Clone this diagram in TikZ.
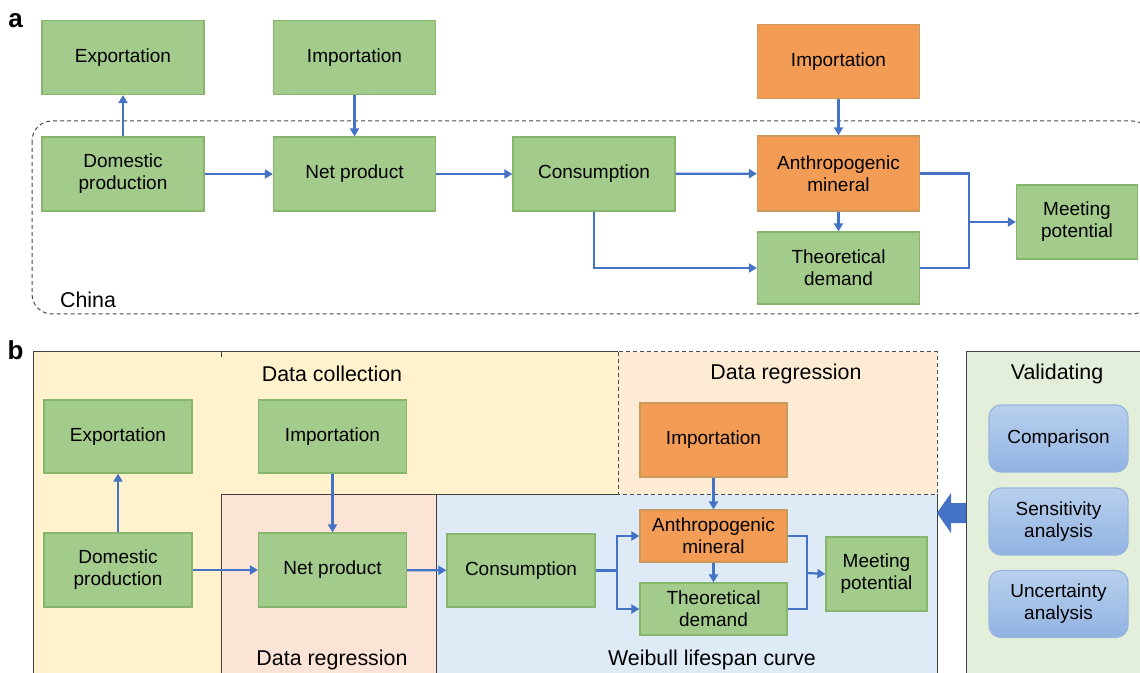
\documentclass[tikz,border=0pt]{standalone}
\usepackage{fontspec}
\setmainfont{Liberation Sans}
\usetikzlibrary{arrows.meta}
\definecolor{boxgreen}{HTML}{A3CB8B}
\definecolor{greenline}{HTML}{86B56C}
\definecolor{boxorange}{HTML}{F39C56}
\definecolor{orangeline}{HTML}{C99A5C}
\definecolor{flowblue}{HTML}{4472C4}
\definecolor{bgyellow}{HTML}{FFF2CC}
\definecolor{bgpink}{HTML}{FBE4D5}
\definecolor{bgblue}{HTML}{DEEAF6}
\definecolor{bgpeach}{HTML}{FDEBD3}
\definecolor{bggreen}{HTML}{E3EFDA}
\definecolor{vtop}{HTML}{B9D0EE}
\definecolor{vbot}{HTML}{91B3E2}
\definecolor{vline}{HTML}{9AB6DE}

\begin{document}
\begin{tikzpicture}[x=0.5pt, y=-0.5pt,
    box/.style={rectangle, draw=greenline, fill=boxgreen, line width=0.6pt,
        inner sep=0pt, minimum width=81pt, minimum height=37pt, align=center,
        font=\fontsize{9.5}{11}\selectfont},
    obox/.style={box, draw=orangeline, fill=boxorange},
    vbox/.style={rectangle, rounded corners=6pt, draw=vline, line width=0.6pt,
        top color=vtop, bottom color=vbot, inner sep=0pt, minimum width=69.5pt,
        minimum height=33.5pt, align=center, font=\fontsize{9.5}{11}\selectfont},
    flow/.style={draw=flowblue, line width=1.1pt, -{Triangle[length=4pt,width=4.5pt]}},
    link/.style={draw=flowblue, line width=1.1pt},
    frame/.style={draw=black!75, line width=0.5pt},
    region/.style={draw=black!70, line width=0.5pt, dash pattern=on 2pt off 1.5pt},
    title/.style={font=\fontsize{10.7}{12}\selectfont},
    panel/.style={font=\fontsize{13}{13}\selectfont\bfseries}
]
    \useasboundingbox (0,0) rectangle (1140,673);

    % panel a
    \node[panel] (pa) at (15.5,21) {a};
    \draw[region, rounded corners=10pt] (32,121) rectangle (1152,314);
    \node[title, anchor=west] (china) at (53,300) {China};

    \node[box] (exp) at (123,57.5) {Exportation};
    \node[box] (imp) at (354.5,57.5) {Importation};
    \node[box] (dom) at (123,174) {Domestic\\production};
    \node[box] (net) at (354.5,174) {Net product};
    \node[box] (cons) at (594,174) {Consumption};
    \node[obox] (impo) at (838.5,61.5) {Importation};
    \node[obox, minimum height=37.5pt] (anth) at (838.5,173.5) {Anthropogenic\\mineral};
    \node[box, minimum height=36pt] (theo) at (838.5,268) {Theoretical\\demand};
    \node[box, minimum width=60.5pt] (meet) at (1077,222) {Meeting\\potential};
    \coordinate (ja) at (969,222);

    \draw[flow] (dom) -- (exp);
    \draw[flow] (imp) -- (net);
    \draw[flow] (dom) -- (net);
    \draw[flow] (net) -- (cons);
    \draw[flow] (cons) -- (anth);
    \draw[flow] (cons.south) |- (theo.west);
    \draw[flow] (impo) -- (anth);
    \draw[flow] (anth) -- (theo);
    \draw[link] (anth.east) -| (ja);
    \draw[link] (theo.east) -| (ja);
    \draw[flow] (ja) -- (meet.west);

    % panel b
    \node[panel] (pb) at (15.5,350) {b};
    \fill[bgyellow] (33,352) rectangle (618,673);
    \fill[bgpink] (221,494) rectangle (436,673);
    \fill[bgblue] (436,494) rectangle (937,673);
    \fill[bgpeach] (618,352) rectangle (937,494);
    \fill[bggreen] (966,352) rectangle (1140,673);
    \draw[frame] (33,673) -- (33,352) -- (618,352);
    \draw[frame] (221,352) -- (221,357);
    \draw[frame] (221,673) -- (221,494) -- (618,494);
    \draw[frame] (436,494) -- (436,673);
    \draw[frame] (937,494) -- (937,673);
    \draw[region] (618,352) rectangle (937,494);
    \draw[frame] (966,673) -- (966,352) -- (1140,352);

    \node[title] (tcol) at (332,374) {Data collection};
    \node[title] (treg) at (786,374) {Data regression};
    \node[title] (tregb) at (332,660) {Data regression};
    \node[title] (twei) at (712,660) {Weibull lifespan curve};
    \node[title] (tval) at (1057,374) {Validating};

    \node[box, minimum width=74pt, minimum height=36.5pt] (expb) at (118,436.5) {Exportation};
    \node[box, minimum width=74pt, minimum height=36.5pt] (impb) at (332.5,436.5) {Importation};
    \node[box, minimum width=74pt, minimum height=37pt] (domb) at (118,570) {Domestic\\production};
    \node[box, minimum width=74pt, minimum height=37pt] (netb) at (332.5,570) {Net product};
    \node[box, minimum width=74pt, minimum height=36.5pt] (consb) at (521,570.5) {Consumption};
    \node[obox, minimum width=73.5pt, minimum height=37pt] (impob) at (713.5,440) {Importation};
    \node[obox, minimum width=73.5pt, minimum height=26pt] (anthb) at (713.5,536) {Anthropogenic\\mineral};
    \node[box, minimum width=73.5pt, minimum height=26pt] (theob) at (713.5,609) {Theoretical\\demand};
    \node[box, minimum width=50.5pt, minimum height=37pt] (meetb) at (876.5,574) {Meeting\\potential};
    \coordinate (sb) at (617,570.5);
    \coordinate (jb) at (807,573);

    \draw[flow] (domb) -- (expb);
    \draw[flow] (impb) -- (netb);
    \draw[flow] (domb) -- (netb);
    \draw[flow] (netb) -- (consb);
    \draw[link] (consb) -- (sb);
    \draw[flow] (sb) |- (anthb.west);
    \draw[flow] (sb) |- (theob.west);
    \draw[flow] (impob) -- (anthb);
    \draw[flow] (anthb) -- (theob);
    \draw[link] (anthb.east) -| (jb);
    \draw[link] (theob.east) -| (jb);
    \draw[flow] (jb) -- (meetb.west);

    \node[vbox] (comp) at (1058.5,438.5) {Comparison};
    \node[vbox] (sens) at (1058.5,521.5) {Sensitivity\\analysis};
    \node[vbox] (unc) at (1058.5,604) {Uncertainty\\analysis};

    % validating arrow
    \fill[flowblue] (966,503) -- (951,503) -- (951,493) -- (937,513)
        -- (951,533) -- (951,523) -- (966,523) -- cycle;
\end{tikzpicture}
\end{document}
